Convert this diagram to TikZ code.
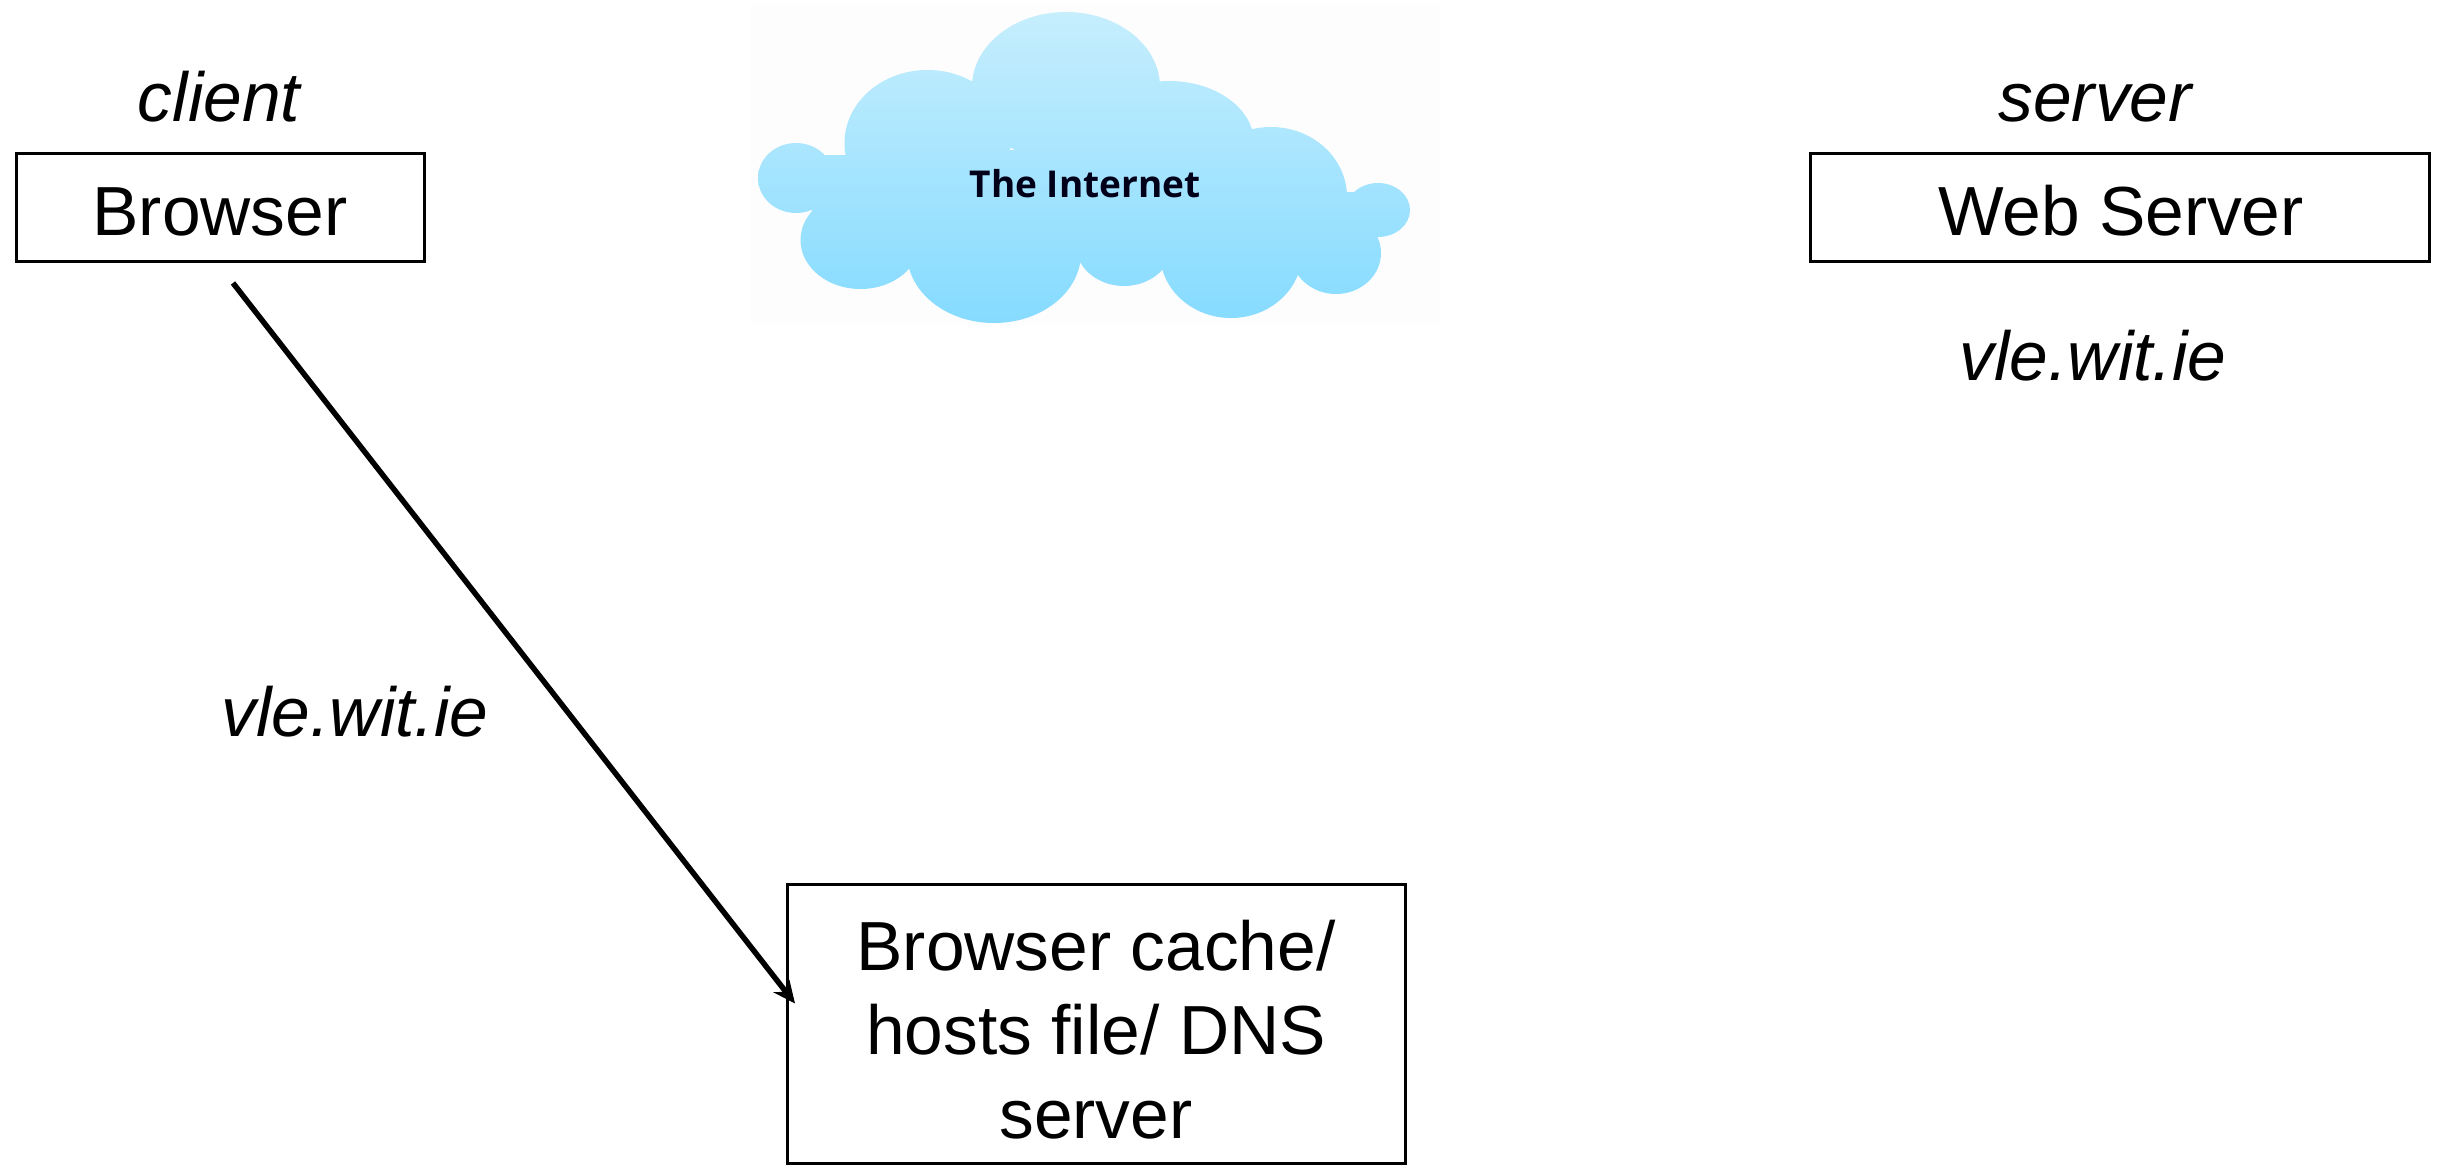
\documentclass[tikz,border=0pt]{standalone}
\usepackage{fontspec}
\setmainfont{Liberation Sans}
\newfontfamily\cloudfont{Open Sans}
\usetikzlibrary{arrows.meta,calc}
\definecolor{cloudtop}{HTML}{C6EEFD}
\definecolor{cloudbot}{HTML}{85DBFF}
\definecolor{imgbg}{HTML}{FDFDFD}
\tikzset{
  x=1pt,y=-1pt,
  boxnode/.style={draw=black,line width=3pt,minimum width=#1,inner sep=0pt,outer sep=0pt},
  lbl/.style={font=\fontsize{69.5}{83}\selectfont,anchor=base,inner sep=0pt,outer sep=0pt},
  ilbl/.style={font=\fontsize{69.5}{83}\selectfont\itshape,anchor=base,inner sep=0pt,outer sep=0pt},
  conn/.style={draw=black,line width=5.5pt,-{Stealth[length=22pt,width=20pt]}}
}
\begin{document}
\begin{tikzpicture}
\useasboundingbox (0,0) rectangle (2453,1165);
\fill[white] (0,0) rectangle (2453,1165);
\fill[imgbg] (751,5) rectangle (1440,325);
\begin{scope}
\clip (1066,87) ellipse [x radius=94,y radius=75]
      (927.5,143) ellipse [x radius=83,y radius=73]
      (1169,143) ellipse [x radius=85,y radius=62]
      (1271,197) ellipse [x radius=76,y radius=70]
      (796,178) ellipse [x radius=38,y radius=35]
      (1378,210) ellipse [x radius=32,y radius=27]
      (860.5,240) ellipse [x radius=60,y radius=49]
      (994,253) ellipse [x radius=87,y radius=70]
      (1124,243) ellipse [x radius=49,y radius=43]
      (1231,253) ellipse [x radius=71,y radius=65]
      (1336,253) ellipse [x radius=45,y radius=41]
      (1300,150) rectangle (860,260)
      (870,155) rectangle (812,225)
      (1365,192) rectangle (1300,250);
\shade[top color=cloudtop,bottom color=cloudbot,shading angle=0] (750,12) rectangle (1420,325);
\end{scope}
\node[anchor=base,inner sep=0pt,font=\cloudfont\bfseries\fontsize{37}{44}\selectfont,text=black!90!blue] (internet) at (1085,197) {The Internet};

\node[boxnode=408pt,minimum height=108pt] (browser) at (220,207) {};
\node[boxnode=619pt,minimum height=108pt] (webserver) at (2120,207) {};
\node[boxnode=618pt,minimum height=279pt] (dns) at (1096,1023.5) {};

\node[ilbl] (clientlbl) at (219,121) {client};
\node[lbl] (browserlbl) at (220,235) {Browser};
\node[ilbl] (serverlbl) at (2095,121) {server};
\node[lbl] (weblbl) at (2121,235) {Web Server};
\node[ilbl] (vletop) at (2093,380) {vle.wit.ie};
\node[ilbl] (vleleft) at (355,736) {vle.wit.ie};
\node[lbl] (dnsa) at (1096,970) {Browser cache/};
\node[lbl] (dnsb) at (1096,1054) {hosts file/ DNS};
\node[lbl] (dnsc) at (1096,1138) {server};

\coordinate (browserout) at ($(browser.south)+(13,22)$);
\coordinate (dnsin) at ($(dns.west)+(8,-20)$);
\draw[conn] (browserout) -- (dnsin);
\end{tikzpicture}
\end{document}
